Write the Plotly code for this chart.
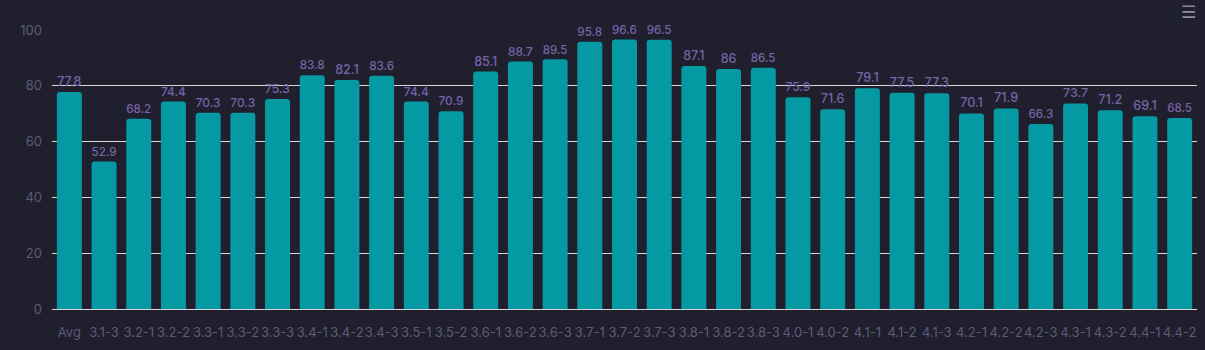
import plotly.graph_objects as go

categories = ["Avg", "3.1-3", "3.2-1", "3.2-2", "3.3-1", "3.3-2", "3.3-3", "3.4-1", "3.4-2", "3.4-3",
              "3.5-1", "3.5-2", "3.6-1", "3.6-2", "3.6-3", "3.7-1", "3.7-2", "3.7-3", "3.8-1", "3.8-2",
              "3.8-3", "4.0-1", "4.0-2", "4.1-1", "4.1-2", "4.1-3", "4.2-1", "4.2-2", "4.2-3", "4.3-1",
              "4.3-2", "4.4-1", "4.4-2"]
values = [77.8, 52.9, 68.2, 74.4, 70.3, 70.3, 75.3, 83.8, 82.1, 83.6,
          74.4, 70.9, 85.1, 88.7, 89.5, 95.8, 96.6, 96.5, 87.1, 86,
          86.5, 75.9, 71.6, 79.1, 77.5, 77.3, 70.1, 71.9, 66.3, 73.7,
          71.2, 69.1, 68.5]
y_ticks = [0, 20, 40, 60, 80, 100]

BG = "#201f2d"
BAR = "#0499a3"
LABEL = "#7763a8"
TICK = "#5e5b78"
GRID = "#d8d8d8"
FONT = "Inter"

fig = go.Figure(go.Bar(
    x=categories, y=values,
    marker=dict(color=BAR, cornerradius=3, line=dict(width=0)),
    text=[f"{v:g}" for v in values],
    textposition="outside",
    textfont=dict(color=LABEL, size=12.5, family=FONT, weight=500),
    cliponaxis=False,
    hoverinfo="x+y",
))

fig.update_layout(
    width=1205, height=350,
    margin=dict(l=52, r=8, t=30, b=41),
    paper_bgcolor=BG, plot_bgcolor=BG,
    bargap=0.28,
    showlegend=False,
    font=dict(family=FONT, color=TICK, size=12),
    xaxis=dict(
        showgrid=False, zeroline=False,
        showline=True, linecolor=GRID, linewidth=1,
        tickfont=dict(color=TICK, size=13, family=FONT),
        tickangle=0, ticklen=0, ticks="",
        ticklabelstandoff=11,
    ),
    yaxis=dict(
        range=[0, 100], tickvals=y_ticks,
        showgrid=True, gridcolor=GRID, gridwidth=1,
        zeroline=False, showline=False,
        tickfont=dict(color=TICK, size=13, family=FONT),
        ticks="", ticklabelstandoff=9,
    ),
    annotations=[dict(
        x=1, y=1, xref="paper", yref="paper", xanchor="right", yanchor="middle",
        text="☰", showarrow=False, yshift=18, xshift=1,
        font=dict(color="#8a8da0", size=17, family="DejaVu Sans"),
    )],
)

fig.write_html("out.html")
